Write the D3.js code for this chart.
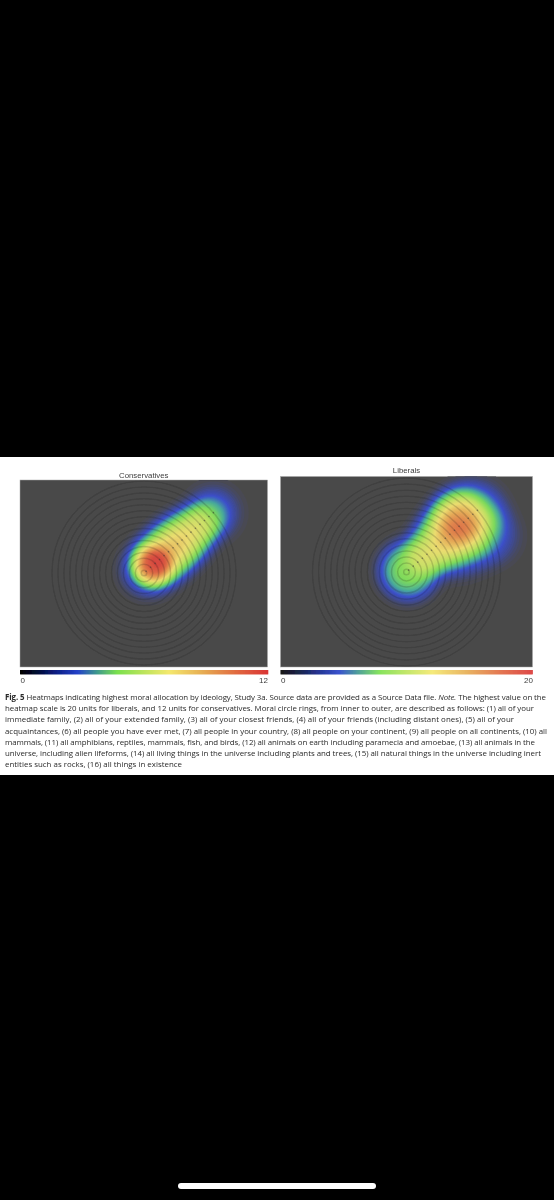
<!DOCTYPE html>
<html>
<head>
<meta charset="utf-8">
<script src="https://cdn.jsdelivr.net/npm/d3@7/dist/d3.min.js"></script>
<style>
html,body{margin:0;padding:0;background:#000;width:554px;height:1200px;overflow:hidden}
svg{display:block}
</style>
</head>
<body>
<svg id="chart" width="554" height="1200"></svg>
<script>
// ---- data ----
const rings = d3.range(1, 17);
const conservativeRing   = [1, 2, 3, 4, 5, 6, 7, 8, 9, 10, 11, 12, 13, 14, 15, 16, 2.5, 16];
const conservativeAngle  = [41, 41, 41, 41, 41, 41, 41, 41, 41, 41, 41, 41, 41, 41, 41, 41, 41, 41];
const conservativeWeight = [0.7, 0.75, 0.85, 0.95, 1.0, 1.0, 1.0, 1.0, 0.95, 0.9, 0.85, 0.75, 0.62, 0.55, 0.55, 0.6, 6.6, 0.8];
const conservativeSpread = [26, 26, 26, 26, 26, 26, 26, 26, 26, 25, 24, 23, 21, 20, 20, 20, 18, 28];
const liberalRing   = [1, 2, 3, 4, 5, 6, 7, 8, 9, 10, 11, 12, 13, 14, 15, 16, 8, 10, 12, 15, 16, 13];
const liberalAngle  = [41, 41, 41, 41, 41, 41, 41, 41, 41, 41, 41, 41, 41, 41, 41, 41, 25, 22, 22, 25, 22, 47];
const liberalWeight = [5.5, 0, 0, 0.6, 1.0, 1.2, 1.3, 1.35, 1.3, 1.35, 1.45, 1.75, 1.9, 1.7, 1.2, 0.9, 0.4, 0.7, 0.8, 1.0, 0.8, 4.0];
const liberalSpread = [27, 20, 20, 20, 22, 24, 26, 28, 29, 29, 30, 30, 30, 30, 30, 30, 28, 28, 28, 28, 28, 24];
const conservativeMax = 12;
const liberalMax = 20;
const conservativeTicks = [0, 12];
const liberalTicks = [0, 20];
const captionLines = [
  "Heatmaps indicating highest moral allocation by ideology, Study 3a. Source data are provided as a Source Data file.",
  "heatmap scale is 20 units for liberals, and 12 units for conservatives. Moral circle rings, from inner to outer, are described as follows: (1) all of your",
  "immediate family, (2) all of your extended family, (3) all of your closest friends, (4) all of your friends (including distant ones), (5) all of your",
  "acquaintances, (6) all people you have ever met, (7) all people in your country, (8) all people on your continent, (9) all people on all continents, (10) all",
  "mammals, (11) all amphibians, reptiles, mammals, fish, and birds, (12) all animals on earth including paramecia and amoebae, (13) all animals in the",
  "universe, including alien lifeforms, (14) all living things in the universe including plants and trees, (15) all natural things in the universe including inert",
  "entities such as rocks, (16) all things in existence"
];
const captionEnds = [546, 534, 514, 547, 535, 541, 182];

// ---- colour ramps ----
const barStops  = [0, .07, .14, .23, .31, .39, .5, .6, .74, .88, 1];
const barColors = ["#000000","#020a35","#0a1c80","#2440c8","#3f9a8c","#7ae04e","#bde45c","#f4e86e","#e6ab52","#e0653f","#d93434"];
const heatStops  = [0, .10, .17, .26, .38, .52, .70, .87, 1];
const heatColors = ["#3048d8","#3a50dc","#48b0a0","#80e05c","#c4e664","#f2e272","#eaa856","#e26a46","#dc4a40"];
const alphaStops = [0, .015, .05, .10, .20, 1];
const alphaVals  = [0, .10, .50, .88, .96, .96];

const barColor  = d3.scaleLinear().domain(barStops).range(barColors).interpolate(d3.interpolateRgb);
const heatColor = d3.scaleLinear().domain(heatStops).range(heatColors).interpolate(d3.interpolateRgb);
const heatAlpha = d3.scaleLinear().domain(alphaStops).range(alphaVals).clamp(true);

const BG = "#4a4a4a";
const svg = d3.select("#chart");
const defs = svg.append("defs");
defs.append("filter").attr("id","soft").attr("x","-5%").attr("y","-5%").attr("width","110%").attr("height","110%")
  .append("feGaussianBlur").attr("stdDeviation",0.6);
defs.append("filter").attr("id","softText").attr("x","-2%").attr("y","-20%").attr("width","104%").attr("height","140%")
  .append("feGaussianBlur").attr("stdDeviation",0.3);

svg.append("rect").attr("x",0).attr("y",0).attr("width",554).attr("height",1200).attr("fill","#000");
svg.append("rect").attr("x",0).attr("y",457).attr("width",554).attr("height",318).attr("fill","#fff");
svg.append("rect").attr("x",178).attr("y",1183).attr("width",198).attr("height",6).attr("rx",3).attr("fill","#fff");

function panel(o){
  const {x0,x1,y0,y1,cx,cy,R,title,titleY,ring,angle,weight,spread,max,ticks} = o;
  const g = svg.append("g");
  const x = d3.scaleLinear().domain([-1,1]).range([cx-R,cx+R]);
  const y = d3.scaleLinear().domain([-1,1]).range([cy+R,cy-R]);
  const rScale = d3.scaleLinear().domain([1,16]).range([.03,1]);
  const pts = ring.map((r,i)=>{
    const a = angle[i]*Math.PI/180, rr = rScale(r);
    return {px:x(rr*Math.cos(a)), py:y(rr*Math.sin(a)), w:weight[i], s:spread[i]};
  });
  const W = Math.ceil(x1-x0), H = Math.ceil(y1-y0);
  const field = new Float64Array(W*H);
  for(let j=0;j<H;j++) for(let i=0;i<W;i++){
    let v=0; const X=x0+i+.5, Y=y0+j+.5;
    for(const p of pts){
      const d=Math.hypot(X-p.px,Y-p.py)/p.s;
      v+=p.w*Math.exp(-d*d*d);
    }
    field[j*W+i]=v;
  }
  const thresholds = d3.range(1,110).map(i=>i/110*max*1.02);
  const contours = d3.contours().size([W,H]).smooth(true).thresholds(thresholds)(field);
  const path = d3.geoPath(d3.geoTransform({point(a,b){this.stream.point(x0+a,y0+b);}}));

  const plot = g.append("g").attr("filter","url(#soft)");
  plot.append("rect").attr("x",x0).attr("y",y0).attr("width",x1-x0).attr("height",y1-y0)
    .attr("fill",BG).attr("stroke","#a8a8a8").attr("stroke-width",.5);
  plot.append("g").selectAll("path").data(contours.filter(c=>c.coordinates.length)).join("path")
    .attr("d",path)
    .attr("fill",c=>{
      const t=Math.min(1,c.value/max);
      return d3.interpolateRgb(BG,heatColor(t))(heatAlpha(t));
    });
  plot.append("g").selectAll("circle").data(rings).join("circle")
    .attr("cx",x(0)).attr("cy",y(0)).attr("r",d=>x(rScale(d))-x(0))
    .attr("fill","none").attr("stroke","#111").attr("stroke-opacity",.17).attr("stroke-width",1.5);
  plot.append("g").selectAll("circle").data(pts.slice(0,16)).join("circle")
    .attr("cx",d=>d.px).attr("cy",d=>d.py).attr("r",.8)
    .attr("fill","#333").attr("fill-opacity",.5);

  const barX = d3.scaleLinear().domain([0,max]).range([x0,x1]);
  const bar = g.append("g").attr("filter","url(#soft)");
  bar.selectAll("rect").data(d3.range(0,x1-x0,1)).join("rect")
    .attr("x",d=>x0+d).attr("y",670).attr("width",1.3).attr("height",4.4)
    .attr("fill",d=>barColor(d/(x1-x0)));

  const ax = g.append("g").attr("transform","translate(0,677.5)").attr("filter","url(#softText)")
    .call(d3.axisBottom(barX).tickValues(ticks).tickSize(0).tickPadding(0).tickFormat(d3.format("d")));
  ax.select(".domain").remove();
  ax.selectAll("text").attr("font-family","'Liberation Sans',sans-serif").attr("font-size",8).attr("fill","#3c3c3c")
    .attr("text-anchor",d=>d===0?"start":"end").attr("dy","0.72em");

  g.append("text").attr("x",(x0+x1)/2).attr("y",titleY).attr("text-anchor","middle")
    .attr("font-family","'Liberation Sans',sans-serif").attr("font-size",7.8).attr("fill","#3c3c3c")
    .attr("filter","url(#softText)").text(title);
}

panel({x0:20,x1:267.5,y0:480,y1:667,cx:144,cy:573,R:92,title:"Conservatives",titleY:477.5,
  ring:conservativeRing,angle:conservativeAngle,weight:conservativeWeight,spread:conservativeSpread,max:conservativeMax,ticks:conservativeTicks});
panel({x0:280.5,x1:532.5,y0:476.5,y1:667,cx:406.5,cy:572,R:94,title:"Liberals",titleY:473,
  ring:liberalRing,angle:liberalAngle,weight:liberalWeight,spread:liberalSpread,max:liberalMax,ticks:liberalTicks});

const cap = svg.append("g").attr("font-family","'Open Sans',sans-serif").attr("font-size",7.9).attr("fill","#2a2a2a")
  .attr("filter","url(#softText)");
captionLines.forEach((line,i)=>{
  const t = cap.append("text").attr("x",5).attr("y",700+i*11.2)
    .attr("textLength",captionEnds[i]-5).attr("lengthAdjust","spacing");
  if(i===0){
    t.append("tspan").attr("font-weight","700").text("Fig. 5 ");
    t.append("tspan").text(line+" ");
    t.append("tspan").attr("font-style","italic").text("Note.");
    t.append("tspan").text(" The highest value on the");
  } else t.text(line);
});
</script>
</body>
</html>
